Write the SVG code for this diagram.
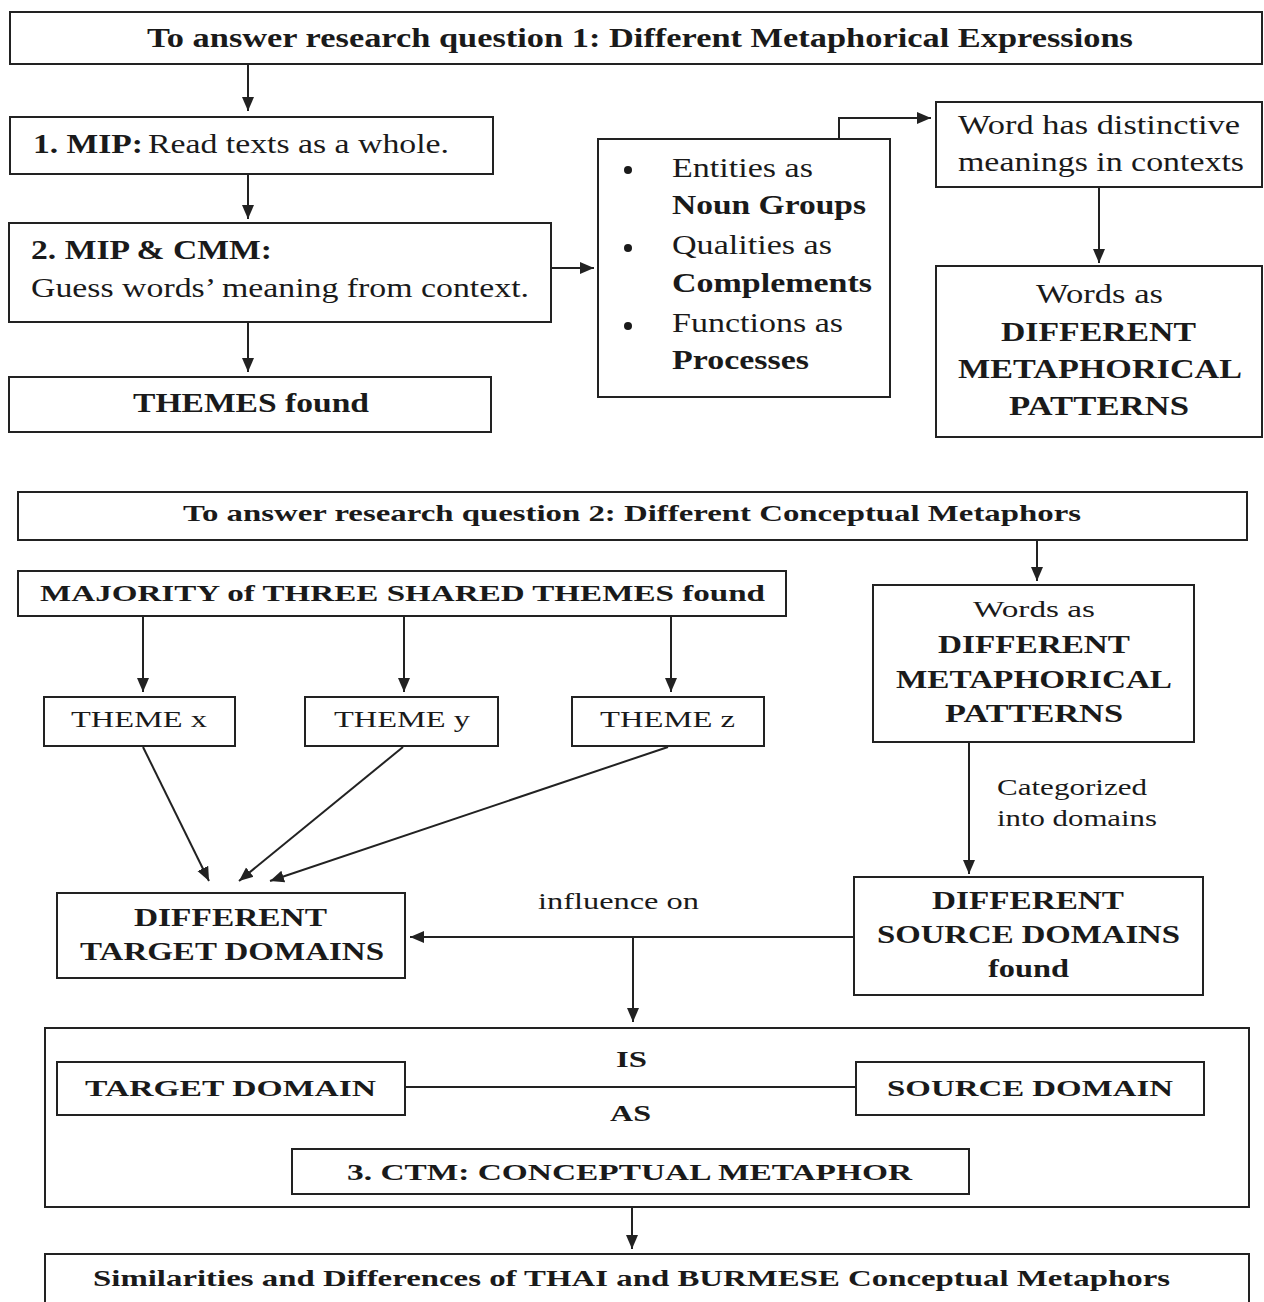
<svg xmlns="http://www.w3.org/2000/svg" width="1264" height="1302" viewBox="0 0 1264 1302">
  <style>
    .box { fill: #ffffff; stroke: #222222; stroke-width: 2; }
    .frame { fill: none; stroke: #222222; stroke-width: 2; }
    .ln { fill: none; stroke: #222222; stroke-width: 2; }
    .arr { fill: none; stroke: #222222; stroke-width: 2; marker-end: url(#ah); }
    text { font-family: "Liberation Serif", "Times New Roman", serif; fill: #1a1a1a; }
    .b { font-weight: bold; }
  </style>
  <defs>
    <marker id="ah" viewBox="0 0 14 14" refX="14" refY="7" markerWidth="14" markerHeight="14" markerUnits="userSpaceOnUse" orient="auto">
      <path d="M0,1 L14,7 L0,13 z" fill="#222222"/>
    </marker>
  </defs>
  <rect width="1264" height="1302" fill="#ffffff"/>

  <!-- Conceptual metaphor frame (behind the connectors) -->
  <g id="ctm-frame">
    <rect class="frame" x="45" y="1028" width="1204" height="179"/>
    <text class="b" x="616" y="1067" font-size="23" textLength="31" lengthAdjust="spacingAndGlyphs">IS</text>
    <text class="b" x="610" y="1121" font-size="23" textLength="41" lengthAdjust="spacingAndGlyphs">AS</text>
  </g>

  <!-- Connectors -->
  <g id="connectors">
    <line class="arr" x1="248" y1="64" x2="248" y2="111"/>
    <line class="arr" x1="248" y1="174" x2="248" y2="219"/>
    <line class="arr" x1="248" y1="322" x2="248" y2="372"/>
    <line class="arr" x1="551" y1="268" x2="594" y2="268"/>
    <polyline class="arr" points="839,139 839,118 931,118"/>
    <line class="arr" x1="1099" y1="187" x2="1099" y2="263"/>
    <line class="arr" x1="1037" y1="540" x2="1037" y2="581"/>
    <line class="arr" x1="143" y1="616" x2="143" y2="692"/>
    <line class="arr" x1="404" y1="616" x2="404" y2="692"/>
    <line class="arr" x1="671" y1="616" x2="671" y2="692"/>
    <line class="arr" x1="143" y1="747" x2="209" y2="881"/>
    <line class="arr" x1="403" y1="747" x2="239" y2="881"/>
    <line class="arr" x1="668" y1="747" x2="270" y2="881"/>
    <line class="arr" x1="969" y1="743" x2="969" y2="874"/>
    <line class="arr" x1="854" y1="937" x2="410" y2="937"/>
    <line class="arr" x1="633" y1="937" x2="633" y2="1022"/>
    <line class="ln" x1="405" y1="1087" x2="856" y2="1087"/>
    <line class="arr" x1="632" y1="1207" x2="632" y2="1249"/>
  </g>

  <!-- Research question 1 -->
  <g id="rq1">
    <rect class="box" x="10" y="12" width="1252" height="52"/>
    <text class="b" x="147" y="47" font-size="27" textLength="986" lengthAdjust="spacingAndGlyphs">To answer research question 1: Different Metaphorical Expressions</text>
  </g>

  <g id="mip">
    <rect class="box" x="10" y="117" width="483" height="57"/>
    <text class="b" x="33" y="153" font-size="28" textLength="110" lengthAdjust="spacingAndGlyphs">1. MIP:</text>
    <text x="148" y="153" font-size="28" textLength="301" lengthAdjust="spacingAndGlyphs">Read texts as a whole.</text>
  </g>

  <g id="mip-cmm">
    <rect class="box" x="9" y="223" width="542" height="99"/>
    <text class="b" x="31" y="259" font-size="28" textLength="241" lengthAdjust="spacingAndGlyphs">2. MIP &amp; CMM:</text>
    <text x="31" y="297" font-size="28" textLength="498" lengthAdjust="spacingAndGlyphs">Guess words’ meaning from context.</text>
  </g>

  <g id="themes-found">
    <rect class="box" x="9" y="377" width="482" height="55"/>
    <text class="b" x="133" y="412" font-size="27" textLength="236" lengthAdjust="spacingAndGlyphs">THEMES found</text>
  </g>

  <g id="bullets">
    <rect class="box" x="598" y="139" width="292" height="258"/>
    <circle cx="628" cy="170" r="4" fill="#1a1a1a"/>
    <circle cx="628" cy="248" r="4" fill="#1a1a1a"/>
    <circle cx="628" cy="326" r="4" fill="#1a1a1a"/>
    <text x="672" y="177" font-size="27" textLength="141" lengthAdjust="spacingAndGlyphs">Entities as</text>
    <text class="b" x="672" y="214" font-size="27" textLength="194" lengthAdjust="spacingAndGlyphs">Noun Groups</text>
    <text x="672" y="254" font-size="27" textLength="160" lengthAdjust="spacingAndGlyphs">Qualities as</text>
    <text class="b" x="672" y="292" font-size="27" textLength="200" lengthAdjust="spacingAndGlyphs">Complements</text>
    <text x="672" y="332" font-size="27" textLength="171" lengthAdjust="spacingAndGlyphs">Functions as</text>
    <text class="b" x="672" y="369" font-size="27" textLength="137" lengthAdjust="spacingAndGlyphs">Processes</text>
  </g>

  <g id="distinctive">
    <rect class="box" x="936" y="102" width="326" height="85"/>
    <text x="958" y="134" font-size="28" textLength="282" lengthAdjust="spacingAndGlyphs">Word has distinctive</text>
    <text x="958" y="171" font-size="28" textLength="286" lengthAdjust="spacingAndGlyphs">meanings in contexts</text>
  </g>

  <g id="patterns-1">
    <rect class="box" x="936" y="266" width="326" height="171"/>
    <text x="1036" y="303" font-size="27" textLength="127" lengthAdjust="spacingAndGlyphs">Words as</text>
    <text class="b" x="1001" y="341" font-size="27" textLength="195" lengthAdjust="spacingAndGlyphs">DIFFERENT</text>
    <text class="b" x="958" y="378" font-size="27" textLength="284" lengthAdjust="spacingAndGlyphs">METAPHORICAL</text>
    <text class="b" x="1009" y="415" font-size="27" textLength="180" lengthAdjust="spacingAndGlyphs">PATTERNS</text>
  </g>

  <!-- Research question 2 -->
  <g id="rq2">
    <rect class="box" x="18" y="492" width="1229" height="48"/>
    <text class="b" x="183" y="521" font-size="24" textLength="898" lengthAdjust="spacingAndGlyphs">To answer research question 2: Different Conceptual Metaphors</text>
  </g>

  <g id="majority">
    <rect class="box" x="18" y="571" width="768" height="45"/>
    <text class="b" x="40" y="601" font-size="24" textLength="725" lengthAdjust="spacingAndGlyphs">MAJORITY of THREE SHARED THEMES found</text>
  </g>

  <g id="theme-x">
    <rect class="box" x="44" y="697" width="191" height="49"/>
    <text x="71" y="727" font-size="24" textLength="136" lengthAdjust="spacingAndGlyphs">THEME x</text>
  </g>
  <g id="theme-y">
    <rect class="box" x="305" y="697" width="193" height="49"/>
    <text x="334" y="727" font-size="24" textLength="136" lengthAdjust="spacingAndGlyphs">THEME y</text>
  </g>
  <g id="theme-z">
    <rect class="box" x="572" y="697" width="192" height="49"/>
    <text x="600" y="727" font-size="24" textLength="135" lengthAdjust="spacingAndGlyphs">THEME z</text>
  </g>

  <g id="patterns-2">
    <rect class="box" x="873" y="585" width="321" height="157"/>
    <text x="973" y="617" font-size="24" textLength="122" lengthAdjust="spacingAndGlyphs">Words as</text>
    <text class="b" x="938" y="653" font-size="25" textLength="192" lengthAdjust="spacingAndGlyphs">DIFFERENT</text>
    <text class="b" x="896" y="688" font-size="25" textLength="276" lengthAdjust="spacingAndGlyphs">METAPHORICAL</text>
    <text class="b" x="945" y="722" font-size="25" textLength="178" lengthAdjust="spacingAndGlyphs">PATTERNS</text>
  </g>

  <g id="categorized-label">
    <text x="997" y="795" font-size="23" textLength="150" lengthAdjust="spacingAndGlyphs">Categorized</text>
    <text x="997" y="826" font-size="23" textLength="160" lengthAdjust="spacingAndGlyphs">into domains</text>
  </g>

  <g id="target-domains">
    <rect class="box" x="57" y="893" width="348" height="85"/>
    <text class="b" x="134" y="926" font-size="25" textLength="193" lengthAdjust="spacingAndGlyphs">DIFFERENT</text>
    <text class="b" x="80" y="960" font-size="25" textLength="304" lengthAdjust="spacingAndGlyphs">TARGET DOMAINS</text>
  </g>

  <g id="influence-label">
    <text x="538" y="909" font-size="23" textLength="161" lengthAdjust="spacingAndGlyphs">influence on</text>
  </g>

  <g id="source-domains">
    <rect class="box" x="854" y="877" width="349" height="118"/>
    <text class="b" x="932" y="909" font-size="25" textLength="192" lengthAdjust="spacingAndGlyphs">DIFFERENT</text>
    <text class="b" x="877" y="943" font-size="25" textLength="303" lengthAdjust="spacingAndGlyphs">SOURCE DOMAINS</text>
    <text class="b" x="988" y="977" font-size="25" textLength="81" lengthAdjust="spacingAndGlyphs">found</text>
  </g>

  <g id="target-domain">
    <rect class="box" x="57" y="1062" width="348" height="53"/>
    <text class="b" x="85" y="1096" font-size="24" textLength="291" lengthAdjust="spacingAndGlyphs">TARGET DOMAIN</text>
  </g>

  <g id="source-domain">
    <rect class="box" x="856" y="1062" width="348" height="53"/>
    <text class="b" x="887" y="1096" font-size="24" textLength="286" lengthAdjust="spacingAndGlyphs">SOURCE DOMAIN</text>
  </g>

  <g id="ctm">
    <rect class="box" x="292" y="1149" width="677" height="45"/>
    <text class="b" x="347" y="1180" font-size="24" textLength="565" lengthAdjust="spacingAndGlyphs">3. CTM: CONCEPTUAL METAPHOR</text>
  </g>

  <g id="comparison">
    <rect class="box" x="45" y="1254" width="1204" height="60"/>
    <text class="b" x="93" y="1286" font-size="23" textLength="1077" lengthAdjust="spacingAndGlyphs">Similarities  and Differences of THAI and BURMESE Conceptual Metaphors</text>
  </g>
</svg>
